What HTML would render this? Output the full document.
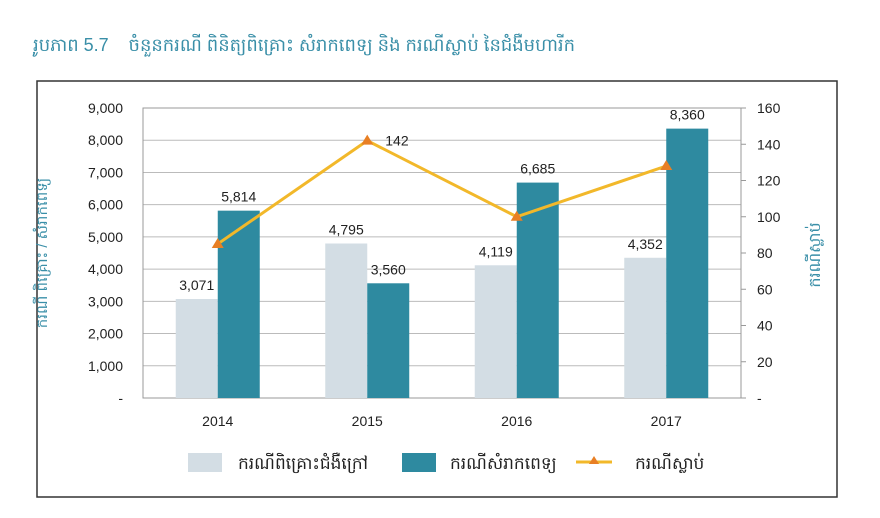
<!DOCTYPE html>
<html><head><meta charset="utf-8">
<style>
body{margin:0;width:880px;height:513px;background:#fff;overflow:hidden;font-family:"Liberation Sans","Noto Sans CJK SC",sans-serif;}
</style></head>
<body>
<svg width="880" height="513" xmlns="http://www.w3.org/2000/svg">
<text x="33" y="51" font-size="18" fill="#3a8fa8" style="white-space:pre" textLength="542" lengthAdjust="spacing">រូបភាព 5.7    ចំនួនករណី ពិនិត្យពិគ្រោះ សំរាកពេទ្យ និង ករណីស្លាប់ នៃជំងឺមហារីក</text>
<rect x="37" y="81" width="800" height="416" fill="none" stroke="#333" stroke-width="1.5"/>
<g id="plot"></g>
</svg>
<script>
const categories=["2014","2015","2016","2017"];
const consultValues=[3071,4795,4119,4352];
const hospitalValues=[5814,3560,6685,8360];
const deathValues=[85,142,100,128];
const leftTicks=[0,1000,2000,3000,4000,5000,6000,7000,8000,9000];
const rightTicks=[0,20,40,60,80,100,120,140,160];
const NS="http://www.w3.org/2000/svg";
const g=document.getElementById('plot');
const L=143,R=741,T=108,B=398;
const yL=v=>B-(v/9000)*(B-T);
const yR=v=>B-(v/160)*(B-T);
const band=(R-L)/categories.length;
const xc=i=>L+band*(i+0.5);
function mk(tag,attrs,txt){const e=document.createElementNS(NS,tag);for(const k in attrs)e.setAttribute(k,attrs[k]);if(txt!==undefined)e.textContent=txt;g.appendChild(e);return e;}
const fmt=v=>v===0?"-":v.toLocaleString('en-US');
leftTicks.forEach(v=>{
 const l=mk('line',{x1:L,x2:R,y1:yL(v),y2:yL(v),stroke:'#bbb','stroke-width':1});
 
 
 const t=mk('text',{x:123,y:yL(v)+5,'text-anchor':'end','font-size':14,fill:'#222'},fmt(v));
 
 
});
rightTicks.forEach(v=>{
 const l=mk('line',{x1:R,x2:R+5,y1:yR(v),y2:yR(v),stroke:'#999','stroke-width':1});
 
 
 const t=mk('text',{x:757,y:yR(v)+5,'font-size':14,fill:'#222'},v===0?"-":String(v));
 
 
});
const frame=mk('rect',{x:L,y:T,width:R-L,height:B-T,fill:'none',stroke:'#999','stroke-width':1});


const bw=42;
categories.forEach((c,i)=>{
 const x=xc(i);
 const b1=mk('rect',{x:x-bw,y:yL(consultValues[i]),width:bw,height:B-yL(consultValues[i]),fill:'#d3dde4'});
 
 
 const b2=mk('rect',{x:x,y:yL(hospitalValues[i]),width:bw,height:B-yL(hospitalValues[i]),fill:'#2e8aa0'});
 
 
 const t1=mk('text',{x:x-bw/2,y:yL(consultValues[i])-9,'text-anchor':'middle','font-size':14,fill:'#222'},fmt(consultValues[i]));
 
 
 const t2=mk('text',{x:x+bw/2,y:yL(hospitalValues[i])-9,'text-anchor':'middle','font-size':14,fill:'#222'},fmt(hospitalValues[i]));
 
 
 const xl=mk('text',{x:x,y:426,'text-anchor':'middle','font-size':14,fill:'#222'},c);
 
 
});
const pts=deathValues.map((v,i)=>xc(i)+','+yR(v)).join(' ');
const pl=mk('polyline',{points:pts,fill:'none',stroke:'#f2b82a','stroke-width':3});


deathValues.forEach((v,i)=>{
 const x=xc(i),y=yR(v);
 const m=mk('polygon',{points:`${x},${y-6} ${x-6},${y+4} ${x+6},${y+4}`,fill:'#e87f24'});
 
 
});
const dl=mk('text',{x:xc(1)+18,y:yR(deathValues[1])+5,'font-size':14,fill:'#222'},String(deathValues[1]));


const ya=mk('text',{transform:'translate(47,253) rotate(-90)','text-anchor':'middle','font-size':15,fill:'#3a8fa8'},'ករណី ពិគ្រោះ / សំរាកពេទ្យ');


const yb=mk('text',{transform:'translate(820,255) rotate(-90)','text-anchor':'middle','font-size':16,fill:'#3a8fa8'},'ករណីស្លាប់');


const lg1=mk('rect',{x:188,y:453,width:34,height:19,fill:'#d3dde4'});


const lt1=mk('text',{x:238,y:469,'font-size':17,fill:'#222'},'ករណីពិគ្រោះជំងឺក្រៅ');


const lg2=mk('rect',{x:402,y:453,width:34,height:19,fill:'#2e8aa0'});


const lt2=mk('text',{x:450,y:469,'font-size':17,fill:'#222'},'ករណីសំរាកពេទ្យ');


const lg3=mk('line',{x1:576,x2:612,y1:462,y2:462,stroke:'#f2b82a','stroke-width':3});


const lg4=mk('polygon',{points:'594,456 589,464 599,464',fill:'#e87f24'});


const lt3=mk('text',{x:635,y:469,'font-size':17,fill:'#222'},'ករណីស្លាប់');


</script>
</body></html>
